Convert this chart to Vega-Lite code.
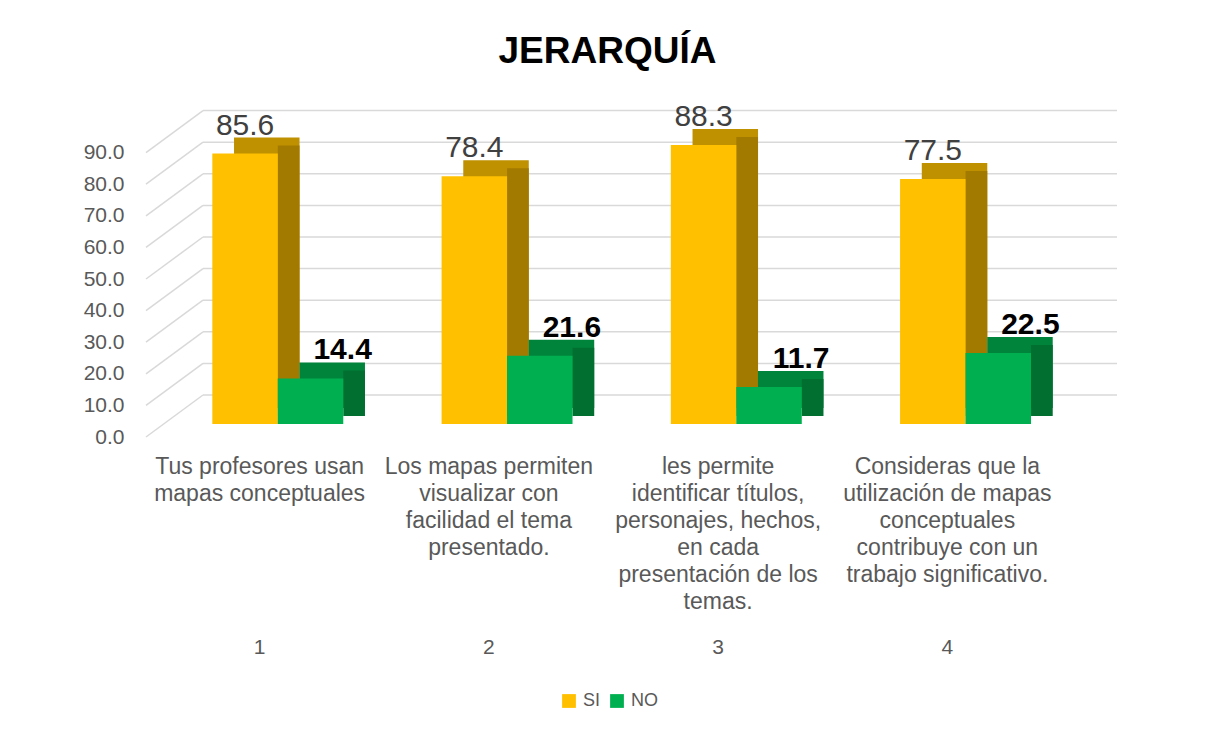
{
  "$schema": "https://vega.github.io/schema/vega-lite/v6.json",
  "width": 917,
  "height": 316,
  "autosize": {"type": "none"},
  "padding": {"left": 145, "top": 108, "right": 145, "bottom": 311},
  "background": "white",
  "config": {"view": {"stroke": null}, "font": "Liberation Sans"},
  "title": {"text": "JERARQUÍA", "fontSize": 37, "fontWeight": "bold", "font": "Liberation Sans", "color": "#000000", "anchor": "middle", "baseline": "alphabetic", "offset": 2, "dx": 4},
  "datasets": {
    "resp": [
      {"n": "1", "pregunta": "Tus profesores usan\nmapas conceptuales", "serie": "SI", "valor": 85.6},
      {"n": "1", "pregunta": "Tus profesores usan\nmapas conceptuales", "serie": "NO", "valor": 14.4},
      {"n": "2", "pregunta": "Los mapas permiten\nvisualizar con\nfacilidad el tema\npresentado.", "serie": "SI", "valor": 78.4},
      {"n": "2", "pregunta": "Los mapas permiten\nvisualizar con\nfacilidad el tema\npresentado.", "serie": "NO", "valor": 21.6},
      {"n": "3", "pregunta": "les permite\nidentificar títulos,\npersonajes, hechos,\nen cada\npresentación de los\ntemas.", "serie": "SI", "valor": 88.3},
      {"n": "3", "pregunta": "les permite\nidentificar títulos,\npersonajes, hechos,\nen cada\npresentación de los\ntemas.", "serie": "NO", "valor": 11.7},
      {"n": "4", "pregunta": "Consideras que la\nutilización de mapas\nconceptuales\ncontribuye con un\ntrabajo significativo.", "serie": "SI", "valor": 77.5},
      {"n": "4", "pregunta": "Consideras que la\nutilización de mapas\nconceptuales\ncontribuye con un\ntrabajo significativo.", "serie": "NO", "valor": 22.5}
    ],
    "grid": [{"v": 0}, {"v": 10}, {"v": 20}, {"v": 30}, {"v": 40}, {"v": 50}, {"v": 60}, {"v": 70}, {"v": 80}, {"v": 90}]
  },
  "layer": [
    {
      "encoding": {
        "x": {"field": "pregunta", "type": "nominal", "sort": null, "scale": {"paddingInner": 0, "paddingOuter": 0},
          "axis": {"orient": "bottom", "title": null, "domain": false, "ticks": false, "tickSize": 0, "labelPadding": 49, "labelBaseline": "alphabetic", "labelAngle": 0, "labelExpr": "split(datum.value, '\\n')", "labelLineHeight": 27, "labelFont": "Liberation Sans", "labelFontSize": 23, "labelColor": "#595959", "labelLimit": 0, "labelOverlap": false, "labelBound": false, "labelFlush": false}},
        "y": {"field": "valor", "type": "quantitative", "scale": {"domain": [0, 100], "nice": false},
          "axis": {"title": null, "values": [0, 10, 20, 30, 40, 50, 60, 70, 80, 90], "format": ".1f", "grid": false, "domain": false, "ticks": false, "tickSize": 0, "labelPadding": 21, "labelOffset": 13, "labelFont": "Liberation Sans", "labelFontSize": 21, "labelColor": "#595959"}}
      },
      "layer": [
        {
          "data": {"name": "grid"},
          "mark": {"type": "rule", "color": "#D9D9D9", "strokeWidth": 1.5, "yOffset": -29},
          "encoding": {"x": {"value": 58}, "x2": {"value": 972}, "y": {"field": "v", "type": "quantitative", "scale": {"domain": [0, 100], "nice": false},
            "axis": {"title": null, "values": [0, 10, 20, 30, 40, 50, 60, 70, 80, 90], "format": ".1f", "grid": false, "domain": false, "ticks": false, "tickSize": 0, "labelPadding": 21, "labelOffset": 13, "labelFont": "Liberation Sans", "labelFontSize": 21, "labelColor": "#595959"}}}
        },
        {
          "data": {"name": "grid"},
          "mark": {"type": "rule", "color": "#D9D9D9", "strokeWidth": 1.5, "yOffset": 13, "y2Offset": -29},
          "encoding": {"x": {"value": 1}, "x2": {"value": 58}, "y": {"field": "v", "type": "quantitative", "scale": {"domain": [0, 100], "nice": false},
            "axis": {"title": null, "values": [0, 10, 20, 30, 40, 50, 60, 70, 80, 90], "format": ".1f", "grid": false, "domain": false, "ticks": false, "tickSize": 0, "labelPadding": 21, "labelOffset": 13, "labelFont": "Liberation Sans", "labelFontSize": 21, "labelColor": "#595959"}}, "y2": {"field": "v"}}
        },
        {
          "data": {"name": "resp"},
          "transform": [{"filter": "datum.serie === 'SI'"}],
          "mark": {"type": "bar", "color": "#BF9000", "width": 65.5, "xOffset": 7.15, "yOffset": -16, "y2Offset": -16}
        },
        {
          "data": {"name": "resp"},
          "transform": [{"filter": "datum.serie === 'SI'"}],
          "mark": {"type": "bar", "color": "#A37A00", "width": 21.7, "xOffset": 29.05, "yOffset": -8, "y2Offset": -8}
        },
        {
          "data": {"name": "resp"},
          "transform": [{"filter": "datum.serie === 'SI'"}],
          "mark": {"type": "bar", "width": 65.5, "xOffset": -14.55},
          "encoding": {
            "color": {"field": "serie", "type": "nominal", "scale": {"domain": ["SI", "NO"], "range": ["#FFC000", "#00B050"]},
              "legend": {"orient": "none", "legendX": 415, "legendY": 584, "direction": "horizontal", "title": null, "symbolType": "square", "symbolSize": 190, "symbolStrokeWidth": 0, "labelFontSize": 18, "labelColor": "#595959", "labelFont": "Liberation Sans", "columnPadding": 7, "labelOffset": 5}}
          }
        },
        {
          "data": {"name": "resp"},
          "transform": [{"filter": "datum.serie === 'NO'"}],
          "mark": {"type": "bar", "color": "#00843C", "width": 65.5, "xOffset": 72.6, "yOffset": -16, "y2Offset": -16}
        },
        {
          "data": {"name": "resp"},
          "transform": [{"filter": "datum.serie === 'NO'"}],
          "mark": {"type": "bar", "color": "#006F30", "width": 21.7, "xOffset": 94.5, "yOffset": -8, "y2Offset": -8}
        },
        {
          "data": {"name": "resp"},
          "transform": [{"filter": "datum.serie === 'NO'"}],
          "mark": {"type": "bar", "width": 65.5, "xOffset": 50.9},
          "encoding": {
            "color": {"field": "serie", "type": "nominal", "scale": {"domain": ["SI", "NO"], "range": ["#FFC000", "#00B050"]},
              "legend": {"orient": "none", "legendX": 415, "legendY": 584, "direction": "horizontal", "title": null, "symbolType": "square", "symbolSize": 190, "symbolStrokeWidth": 0, "labelFontSize": 18, "labelColor": "#595959", "labelFont": "Liberation Sans", "columnPadding": 7, "labelOffset": 5}}
          }
        },
        {
          "data": {"name": "resp"},
          "transform": [{"filter": "datum.serie === 'SI'"}],
          "mark": {"type": "text", "font": "Liberation Sans", "fontSize": 30, "color": "#404040", "baseline": "alphabetic", "align": "center", "xOffset": -14.55, "yOffset": -19},
          "encoding": {"text": {"field": "valor", "type": "quantitative", "format": ".1f"}}
        },
        {
          "data": {"name": "resp"},
          "transform": [{"filter": "datum.serie === 'NO'"}],
          "mark": {"type": "text", "font": "Liberation Sans", "fontSize": 30, "fontWeight": "bold", "color": "#000000", "baseline": "alphabetic", "align": "center", "xOffset": 83, "yOffset": -19},
          "encoding": {"text": {"field": "valor", "type": "quantitative", "format": ".1f"}}
        }
      ]
    },
    {
      "data": {"name": "resp"},
      "transform": [{"filter": "datum.serie === 'SI'"}],
      "mark": {"type": "bar", "opacity": 0},
      "encoding": {
        "x": {"field": "n", "type": "nominal", "sort": null, "scale": {"paddingInner": 0, "paddingOuter": 0},
          "axis": {"orient": "bottom", "title": null, "domain": false, "ticks": false, "tickSize": 0, "labelPadding": 229, "labelBaseline": "alphabetic", "labelAngle": 0, "labelFont": "Liberation Sans", "labelFontSize": 21, "labelColor": "#595959"}}
      }
    }
  ],
  "resolve": {"scale": {"x": "independent"}}
}
